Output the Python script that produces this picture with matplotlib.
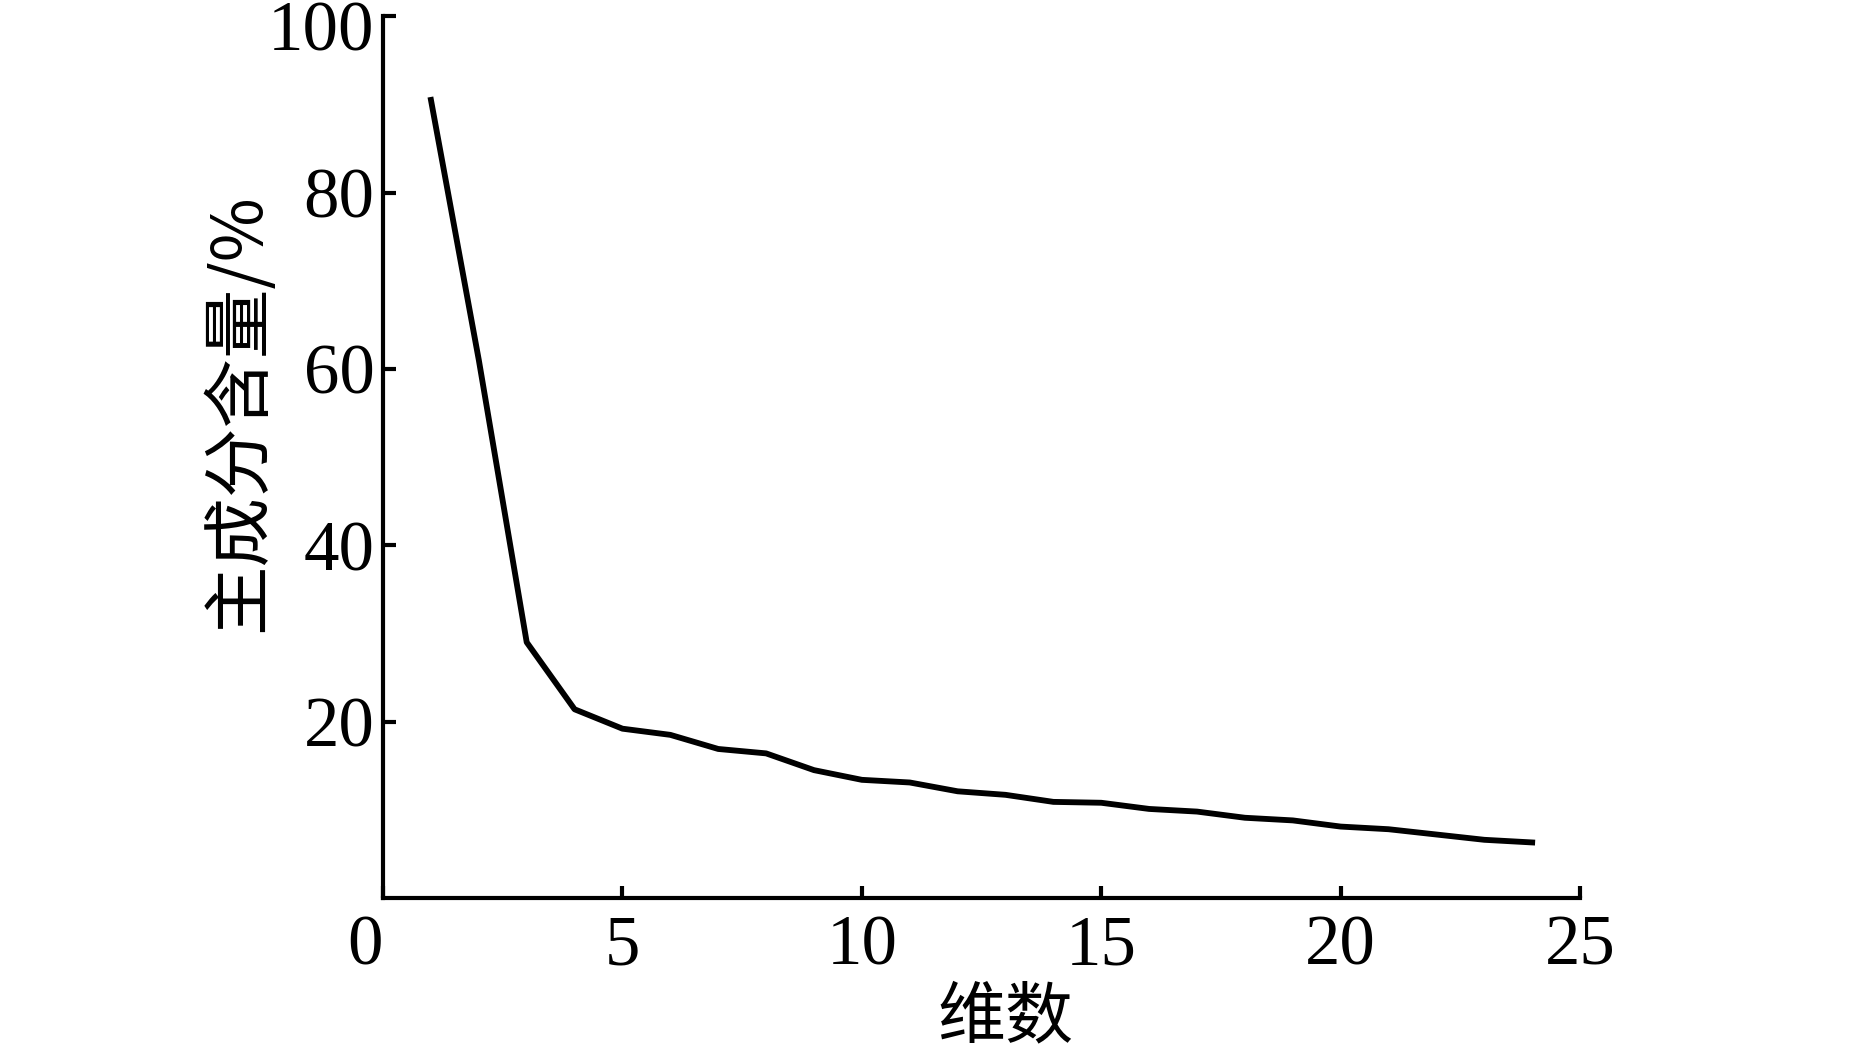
import matplotlib
matplotlib.use("Agg")
import matplotlib.pyplot as plt
import matplotlib.transforms as mtransforms

# 主成分含量随维数变化
dims = [1, 2, 3, 4, 5, 6, 7, 8, 9, 10, 11, 12, 13, 14, 15, 16, 17, 18, 19, 20, 21, 22, 23, 24]
content = [90.5, 61.0, 29.0, 21.4, 19.2, 18.5, 16.9, 16.4, 14.5, 13.4, 13.1, 12.1, 11.7, 10.9,
           10.8, 10.1, 9.8, 9.1, 8.8, 8.1, 7.8, 7.2, 6.6, 6.3]
xticks = [0, 5, 10, 15, 20, 25]
yticks = [20, 40, 60, 80, 100]

plt.rcParams['font.family'] = ['Liberation Serif', 'Noto Sans CJK SC', 'DejaVu Sans']

fig = plt.figure(figsize=(18.75, 10.54), dpi=100)
ax = fig.add_axes([0.2043, 0.148, 0.6384, 0.8367])

ax.plot(dims, content, color="black", linewidth=4.2, solid_joinstyle="round")

ax.set_xlim(0, 25)
ax.set_ylim(0, 100)
ax.set_xticks(xticks)
ax.set_yticks(yticks)
ax.tick_params(direction="in", length=9, width=3, labelsize=51)
ax.tick_params(axis="x", pad=12)
ax.tick_params(axis="y", pad=6)
for lab in ax.get_xticklabels() + ax.get_yticklabels():
    lab.set_family("Liberation Serif")

# 原图中 "0" 略偏左，"100" 略偏下
xl = ax.get_xticklabels()[0]
xl.set_transform(xl.get_transform() + mtransforms.ScaledTranslation(-18 / 100, 0, fig.dpi_scale_trans))
yl = ax.get_yticklabels()[-1]
yl.set_transform(yl.get_transform() + mtransforms.ScaledTranslation(0, -9 / 100, fig.dpi_scale_trans))

ax.spines["top"].set_visible(False)
ax.spines["right"].set_visible(False)
ax.spines["left"].set_linewidth(3)
ax.spines["bottom"].set_linewidth(3)

ax.set_xlabel("维数", fontsize=49, family=["Noto Sans CJK SC", "DejaVu Sans"], va="center")
ax.xaxis.set_label_coords(0.52, -0.137)
ax.set_ylabel("主成分含量/%", fontsize=50, family=["Noto Sans CJK SC", "DejaVu Sans"],
              va="center", ha="center")
ax.yaxis.set_label_coords(-0.12, 0.55)

fig.savefig("out.png", dpi=100)
